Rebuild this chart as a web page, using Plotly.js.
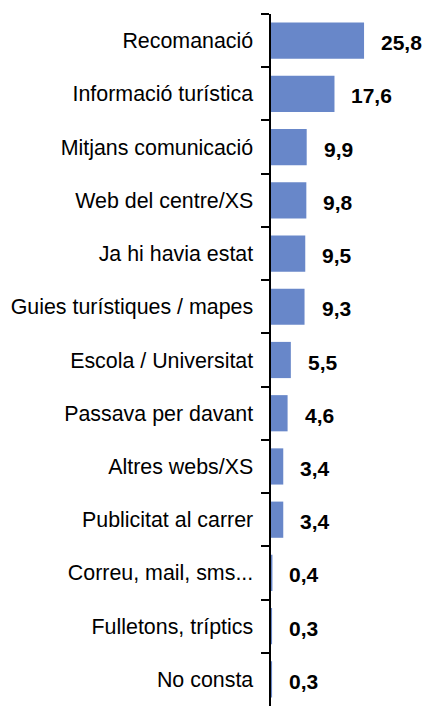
<!DOCTYPE html>
<html>
<head>
<meta charset="utf-8">
<script src="https://cdn.plot.ly/plotly-3.0.1.min.js"></script>
<style>html,body{margin:0;padding:0;background:#fff;}#chart{width:425px;height:706px;}</style>
</head>
<body>
<div id="chart"></div>
<script>
const categories = [
  "Recomanació",
  "Informació turística",
  "Mitjans comunicació",
  "Web del centre/XS",
  "Ja hi havia estat",
  "Guies turístiques / mapes",
  "Escola / Universitat",
  "Passava per davant",
  "Altres webs/XS",
  "Publicitat al carrer",
  "Correu, mail, sms...",
  "Fulletons, tríptics",
  "No consta"
];
const values = [25.8, 17.6, 9.9, 9.8, 9.5, 9.3, 5.5, 4.6, 3.4, 3.4, 0.4, 0.3, 0.3];
const valueLabels = values.map(v => v.toFixed(1).replace('.', ','));

const trace = {
  type: 'bar',
  orientation: 'h',
  x: values,
  y: categories,
  width: 0.68,
  marker: {color: '#6887C9', line: {width: 0}},
  hoverinfo: 'none'
};

const annotations = values.map((v, i) => ({
  x: v,
  y: categories[i],
  xref: 'x',
  yref: 'y',
  text: '<b>' + valueLabels[i] + '</b>',
  showarrow: false,
  xanchor: 'left',
  yanchor: 'middle',
  xshift: 15,
  yshift: -2,
  font: {family: 'Liberation Sans, Arial, sans-serif', size: 21, color: '#000'}
}));

const layout = {
  width: 425,
  height: 706,
  margin: {l: 271, r: 0, t: 14, b: 0, pad: 0},
  paper_bgcolor: '#fff',
  plot_bgcolor: '#fff',
  showlegend: false,
  bargap: 0.32,
  xaxis: {
    range: [0, 42.7],
    visible: false,
    showgrid: false,
    zeroline: false,
    fixedrange: true
  },
  yaxis: {
    autorange: 'reversed',
    showline: true,
    linecolor: '#000',
    linewidth: 2.5,
    ticks: 'outside',
    tickson: 'boundaries',
    ticklen: 8,
    tickwidth: 2,
    tickcolor: '#000',
    ticklabelstandoff: 11,
    showgrid: false,
    zeroline: false,
    tickfont: {family: 'Liberation Sans, Arial, sans-serif', size: 21.4, color: '#000'}
  },
  annotations: annotations
};

Plotly.newPlot('chart', [trace], layout, {displayModeBar: false, staticPlot: true});
</script>
</body>
</html>
